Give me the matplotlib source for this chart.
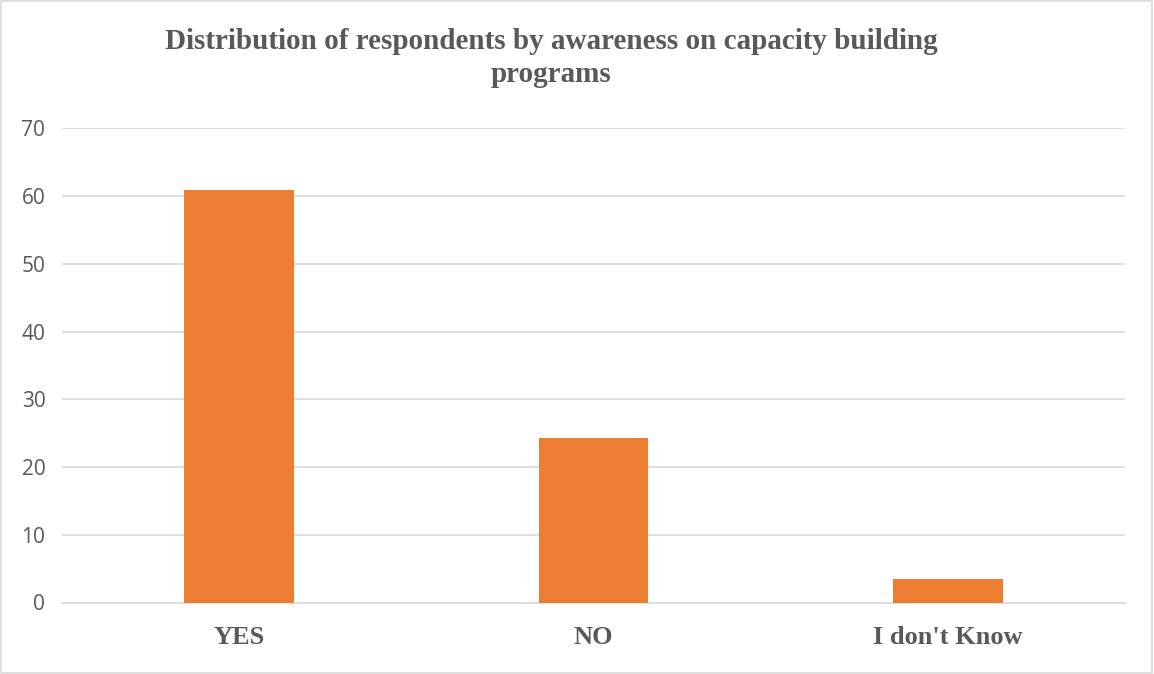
import matplotlib.pyplot as plt
from matplotlib.patches import Rectangle

categories = ["YES", "NO", "I don't Know"]
respondents = [60.9, 24.3, 3.5]
y_ticks = [0, 10, 20, 30, 40, 50, 60, 70]

fig = plt.figure(figsize=(11.54, 6.74), dpi=100)
ax = fig.add_axes([62 / 1154, 71.5 / 674, (1125 - 62) / 1154, (602.5 - 128.3) / 674])

ax.bar(range(len(categories)), respondents, width=0.31, color="#ED7D31", zorder=3)

ax.set_xlim(-0.5, len(categories) - 0.5)
ax.set_ylim(0, 70)
ax.set_yticks(y_ticks)
ax.set_yticklabels([str(t) for t in y_ticks], fontsize=15, color="#595959", family="Open Sans")
ax.set_xticks(range(len(categories)))
ax.set_xticklabels(categories, fontsize=19, fontweight="bold", family="Liberation Serif", color="#595959")

ax.grid(axis="y", color="#d9d9d9", linewidth=1.2, zorder=0)
for side in ["top", "right", "left"]:
    ax.spines[side].set_visible(False)
ax.spines["bottom"].set_color("#d9d9d9")
ax.spines["bottom"].set_linewidth(1.2)
ax.tick_params(axis="both", length=0)
ax.tick_params(axis="y", pad=12)
ax.tick_params(axis="x", pad=17)

fig.text(551 / 1154, 1 - 28 / 674,
         "Distribution of respondents by awareness on capacity building\nprograms",
         ha="center", va="top", fontsize=21, fontweight="bold",
         family="Liberation Serif", color="#595959", linespacing=1.3)

# light frame around the chart area
fig.patches.append(Rectangle((0.001, 0.002), 0.997, 0.996, transform=fig.transFigure,
                             fill=False, edgecolor="#d9d9d9", linewidth=1.2))

plt.savefig("out.png", dpi=100)
